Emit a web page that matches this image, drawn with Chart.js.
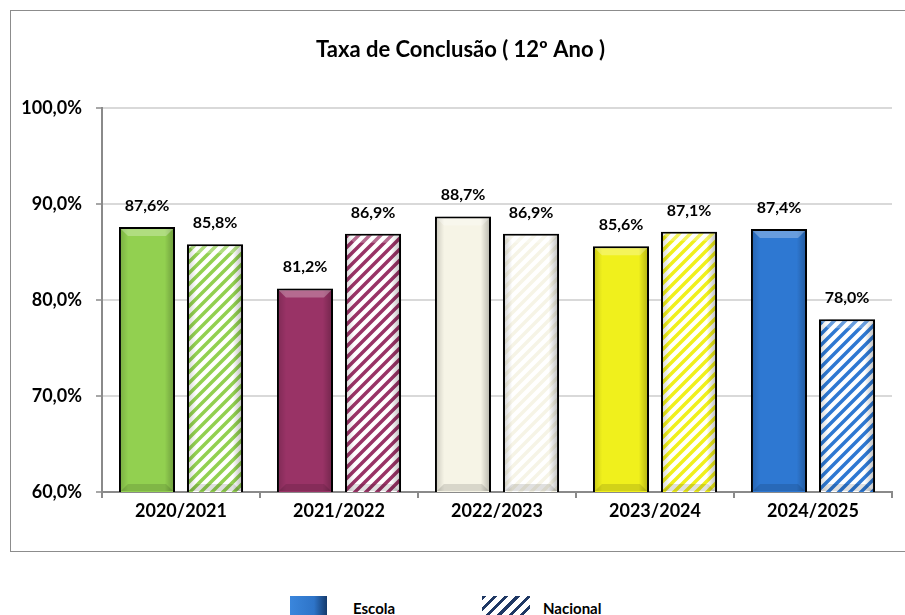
<!DOCTYPE html>
<html lang="pt">
<head>
<meta charset="utf-8">
<title>Taxa de Conclusão ( 12º Ano )</title>
<script src="https://cdn.jsdelivr.net/npm/chart.js@4.4.1/dist/chart.umd.min.js"></script>
<style>
    html, body { margin: 0; padding: 0; background: #fff; overflow: hidden; }
    body { width: 905px; height: 615px; position: relative; font-family: Lato, sans-serif; }
    #frame {
        position: absolute; left: 10px; top: 10px; width: 1000px; height: 540px;
        border: 1.5px solid #8c8c8c; border-right: none;
    }
    #chartCanvas { position: absolute; left: 0; top: 0; }
    .legend-box { position: absolute; top: 596px; height: 30px; }
    .legend-text { position: absolute; top: 599px; font: bold 15px Lato, sans-serif; color: #000; }
</style>
</head>
<body>
<div id="frame"></div>
<canvas id="chartCanvas" width="905" height="560"></canvas>
<div id="legend"></div>

<script>
// Chart data
const chartTitle = 'Taxa de Conclusão ( 12º Ano )';
const schoolYears = ['2020/2021', '2021/2022', '2022/2023', '2023/2024', '2024/2025'];
const seriesNames = ['Escola', 'Nacional'];
const escolaValues = [87.6, 81.2, 88.7, 85.6, 87.4];
const nacionalValues = [85.8, 86.9, 86.9, 87.1, 78.0];
const yearColors = ['#92d050', '#993366', '#f6f4e6', '#f0f01c', '#2e78d2'];
const yMin = 60;
const yMax = 100;
const yStep = 10;

// Number format: 87,6%
function formatPct(value) {
    return value.toFixed(1).replace('.', ',') + '%';
}

// Diagonal "/" hatch pattern in the given colour
function makeHatch(color) {
    const size = 11;
    const c = document.createElement('canvas');
    c.width = size;
    c.height = size;
    const ctx = c.getContext('2d');
    ctx.fillStyle = '#ffffff';
    ctx.fillRect(0, 0, size, size);
    ctx.strokeStyle = color;
    ctx.lineWidth = 3.5;
    ctx.beginPath();
    ctx.moveTo(0, size); ctx.lineTo(size, 0);
    ctx.moveTo(-size / 2, size / 2); ctx.lineTo(size / 2, -size / 2);
    ctx.moveTo(size / 2, size * 1.5); ctx.lineTo(size * 1.5, size / 2);
    ctx.stroke();
    return ctx.createPattern(c, 'repeat');
}

// Soft shadow behind the bars
const barShadow = {
    id: 'barShadow',
    beforeDatasetsDraw(chart) {
        const ctx = chart.ctx;
        ctx.save();
        ctx.shadowColor = 'rgba(0, 0, 0, 0.45)';
        ctx.shadowBlur = 8;
        ctx.shadowOffsetX = 5;
        ctx.shadowOffsetY = 2;
    },
    afterDatasetsDraw(chart) {
        chart.ctx.restore();
    }
};

// Bevel look: light top band, darker sides
const barBevel = {
    id: 'barBevel',
    afterDatasetsDraw(chart) {
        const ctx = chart.ctx;
        const areaBottom = chart.chartArea.bottom;
        chart.data.datasets.forEach((ds, i) => {
            chart.getDatasetMeta(i).data.forEach((bar) => {
                const { x, y, base, width } = bar.getProps(['x', 'y', 'base', 'width'], true);
                const left = x - width / 2 + 2;
                const right = x + width / 2 - 2;
                const top = y + 2;
                const bottom = Math.min(base, areaBottom) - 1;
                const w = right - left;

                ctx.save();
                const side = ctx.createLinearGradient(left, 0, right, 0);
                side.addColorStop(0, 'rgba(0,0,0,0.14)');
                side.addColorStop(0.14, 'rgba(0,0,0,0)');
                side.addColorStop(0.84, 'rgba(0,0,0,0)');
                side.addColorStop(1, 'rgba(0,0,0,0.22)');
                ctx.fillStyle = side;
                ctx.fillRect(left, top, w, bottom - top);

                // top bevel band
                const band = 7;
                ctx.beginPath();
                ctx.moveTo(left, top);
                ctx.lineTo(right, top);
                ctx.lineTo(right - band, top + band);
                ctx.lineTo(left + band, top + band);
                ctx.closePath();
                ctx.fillStyle = 'rgba(255,255,255,0.28)';
                ctx.fill();

                // bottom bevel band
                ctx.beginPath();
                ctx.moveTo(left, bottom);
                ctx.lineTo(right, bottom);
                ctx.lineTo(right - band, bottom - band);
                ctx.lineTo(left + band, bottom - band);
                ctx.closePath();
                ctx.fillStyle = 'rgba(0,0,0,0.12)';
                ctx.fill();
                ctx.restore();
            });
        });
    }
};

// Value labels above each bar
const valueLabels = {
    id: 'valueLabels',
    afterDatasetsDraw(chart) {
        const ctx = chart.ctx;
        ctx.save();
        ctx.font = 'bold 16px Lato, sans-serif';
        ctx.fillStyle = '#000';
        ctx.textAlign = 'center';
        ctx.textBaseline = 'alphabetic';
        chart.data.datasets.forEach((ds, i) => {
            chart.getDatasetMeta(i).data.forEach((bar, j) => {
                ctx.fillText(formatPct(ds.data[j]), bar.x, bar.y - 16);
            });
        });
        ctx.restore();
    }
};

const axisGray = '#8a8a8a';

new Chart(document.getElementById('chartCanvas'), {
    type: 'bar',
    data: {
        labels: schoolYears,
        datasets: [
            {
                label: seriesNames[0],
                data: escolaValues,
                backgroundColor: yearColors,
                borderColor: '#000',
                borderWidth: 2,
                borderSkipped: false
            },
            {
                label: seriesNames[1],
                data: nacionalValues,
                backgroundColor: yearColors.map(makeHatch),
                borderColor: '#000',
                borderWidth: 2,
                borderSkipped: false
            }
        ]
    },
    options: {
        responsive: false,
        animation: false,
        devicePixelRatio: 1,
        categoryPercentage: 0.861,
        barPercentage: 0.824,
        layout: {
            padding: { left: 16, right: 0, top: 0, bottom: 28 }
        },
        plugins: {
            legend: { display: false },
            tooltip: { enabled: false },
            title: {
                display: true,
                text: chartTitle,
                color: '#000',
                font: { family: 'Lato', size: 22, weight: 'bold', lineHeight: 1.2 },
                padding: { top: 37, bottom: 44.6 }
            }
        },
        scales: {
            x: {
                afterFit: (scale) => { scale.height = 40; },
                grid: {
                    drawOnChartArea: false,
                    drawTicks: true,
                    tickLength: 6,
                    color: axisGray,
                    lineWidth: 2
                },
                border: { color: axisGray, width: 2 },
                ticks: {
                    color: '#000',
                    padding: 2,
                    font: { family: 'Lato', size: 18, weight: 'bold' }
                }
            },
            y: {
                min: yMin,
                max: yMax,
                afterFit: (scale) => { scale.width = 86; },
                grid: {
                    color: '#d9d9d9',
                    lineWidth: 2,
                    tickLength: 6,
                    tickColor: axisGray,
                    tickWidth: 1.5
                },
                border: { color: axisGray, width: 2 },
                ticks: {
                    stepSize: yStep,
                    color: '#000',
                    padding: 14,
                    font: { family: 'Lato', size: 18, weight: 'bold' },
                    callback: (v) => formatPct(v)
                }
            },
            // empty right-hand gutter so the title centres like the original
            gutter: {
                position: 'right',
                afterFit: (scale) => { scale.width = 13; },
                grid: { display: false },
                border: { display: false },
                ticks: { display: false }
            }
        }
    },
    plugins: [barShadow, barBevel, valueLabels]
});

// Legend (HTML, below the chart frame)
const legendEl = document.getElementById('legend');
const legendBoxes = [
    { left: 290, width: 37, background: 'linear-gradient(to right, #3a86dc 0%, #2e74c8 65%, #143a6c 100%)' },
    { left: 482, width: 48, background: 'repeating-linear-gradient(135deg, #1f3864 0 3px, #ffffff 3px 8px)' }
];
const legendTextLeft = [353, 543];
seriesNames.forEach((name, i) => {
    const box = document.createElement('div');
    box.className = 'legend-box';
    box.style.left = legendBoxes[i].left + 'px';
    box.style.width = legendBoxes[i].width + 'px';
    box.style.background = legendBoxes[i].background;
    legendEl.appendChild(box);

    const text = document.createElement('div');
    text.className = 'legend-text';
    text.style.left = legendTextLeft[i] + 'px';
    text.textContent = name;
    legendEl.appendChild(text);
});
</script>
</body>
</html>
